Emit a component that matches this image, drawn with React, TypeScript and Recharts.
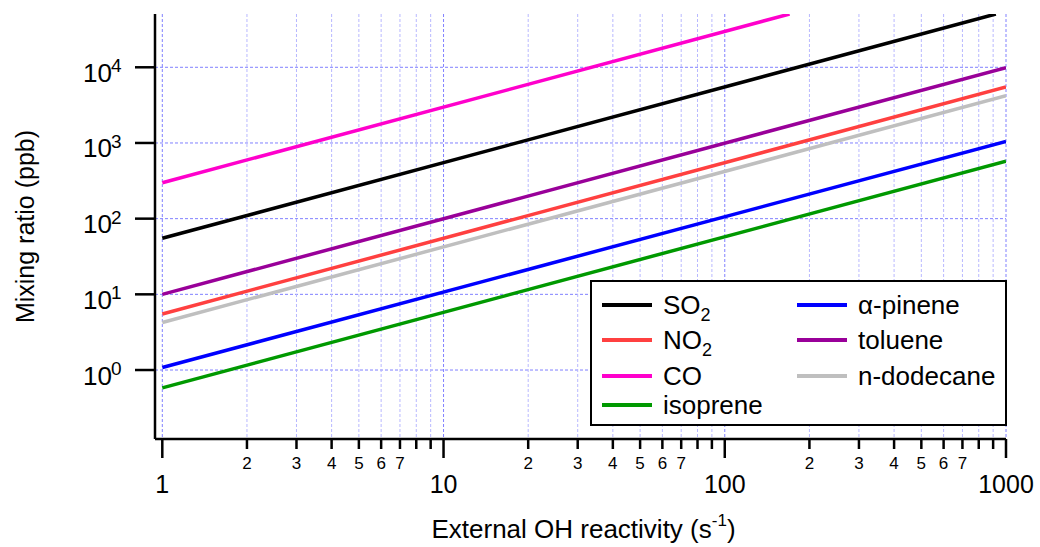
import { LineChart, Line, XAxis, YAxis, CartesianGrid, Legend } from 'recharts'

const FONT = '"Liberation Sans", Arial, sans-serif'

// species, in legend order (first column, then second)
const species = ['SO2', 'NO2', 'CO', 'isoprene', 'α-pinene', 'toluene', 'n-dodecane']
const colors = ['#000000', '#ff4040', '#ff00cc', '#009900', '#0000ff', '#990099', '#bfbfbf']

// every line starts at 1 s-1; end points are where each line stops on the plot
const startReactivity = 1
const mixingAtStart = [55, 5.5, 298, 0.58, 1.08, 10, 4.25]
const endReactivity = [920, 1000, 170, 1000, 1000, 1000, 1000]
const mixingAtEnd = [50600, 5500, 50600, 575, 1050, 9900, 4200]

// axes
const xMajorTicks = [1, 10, 100, 1000]
const xMinorDigits = [2, 3, 4, 5, 6, 7, 8, 9]
const xLabelledDigits = [2, 3, 4, 5, 6, 7]
const yTicks = [1, 10, 100, 1000, 10000]
const yTickExponents = ['0', '1', '2', '3', '4']

const xTicks = xMajorTicks.flatMap((m, i) =>
  i < xMajorTicks.length - 1 ? [m, ...xMinorDigits.map(d => d * m)] : [m]
)

const GRID = '#8080ff'
const GRID_MINOR = '#b8b8ff'

function XTick({ x, y, payload }: any) {
  const v = payload.value as number
  const major = xMajorTicks.includes(v)
  const decade = Math.pow(10, Math.floor(Math.log10(v) + 1e-9))
  const digit = Math.round(v / decade)
  return (
    <g>
      <line x1={x} x2={x} y1={y} y2={y + (major ? 19 : 10)} stroke="#000" strokeWidth={2.5} />
      {major ? (
        <text x={x} y={y + 54} textAnchor="middle" fontSize={25} fontFamily={FONT} fill="#000">
          {String(v)}
        </text>
      ) : xLabelledDigits.includes(digit) ? (
        <text x={x} y={y + 30} textAnchor="middle" fontSize={17} fontFamily={FONT} fill="#000">
          {String(digit)}
        </text>
      ) : null}
    </g>
  )
}

function YTick({ x, y, payload }: any) {
  const i = yTicks.indexOf(payload.value)
  return (
    <g>
      <line x1={x - 20} x2={x} y1={y} y2={y} stroke="#000" strokeWidth={2.5} />
      <text x={x - 43} y={y + 14.5} textAnchor="end" fontSize={26} fontFamily={FONT} fill="#000">
        10
      </text>
      <text x={x - 44} y={y + 5} textAnchor="start" fontSize={19} fontFamily={FONT} fill="#000">
        {yTickExponents[i]}
      </text>
    </g>
  )
}

const renderXTitle = ({ viewBox }: any) => (
  <text x={viewBox.x + viewBox.width / 2 + 3} y={viewBox.y + 99} textAnchor="middle" fontSize={26} fontFamily={FONT} fill="#000">
    External OH reactivity (s
    <tspan dy={-12} fontSize={17}>-1</tspan>
    <tspan dy={12}>)</tspan>
  </text>
)

const renderYTitle = ({ viewBox }: any) => {
  const cx = 25
  const cy = viewBox.y + viewBox.height / 2
  return (
    <text x={cx} y={cy} transform={`rotate(-90 ${cx} ${cy})`} textAnchor="middle" dominantBaseline="central" fontSize={25} fontFamily={FONT} fill="#000">
      Mixing ratio (ppb)
    </text>
  )
}

// vertical grid: decades a little stronger than the minor lines
const renderVerticalLine = (p: any) => {
  const v = xTicks[p.index]
  const major = v === undefined || xMajorTicks.includes(v)
  return (
    <line
      key={p.key}
      x1={p.x1}
      x2={p.x2}
      y1={p.y1}
      y2={p.y2}
      stroke={major ? GRID : GRID_MINOR}
      strokeWidth={1}
      strokeDasharray="3 2"
    />
  )
}

function speciesLabel(name: string) {
  const m = name.match(/^(.*?)(\d)$/)
  if (!m) return name
  return (
    <>
      {m[1]}
      <span style={{ fontSize: 18, position: 'relative', top: 7 }}>{m[2]}</span>
    </>
  )
}

const legendRowY = [25, 60, 96, 125]

function LegendBox() {
  return (
    <div
      style={{
        position: 'relative',
        width: 417,
        height: 146,
        boxSizing: 'border-box',
        border: '2px solid #000',
        background: '#fff',
        fontFamily: FONT,
        fontSize: 26,
        color: '#000',
      }}
    >
      {species.map((name, i) => {
        const col = i < 4 ? 0 : 1
        const row = i < 4 ? i : i - 4
        const lineLeft = col === 0 ? 10 : 205
        const textLeft = col === 0 ? 71 : 266
        const cy = legendRowY[row] - 2
        return (
          <div key={name}>
            <div style={{ position: 'absolute', left: lineLeft, top: cy - 2, width: 50, height: 4, background: colors[i] }} />
            <div style={{ position: 'absolute', left: textLeft, top: cy - 14, lineHeight: '28px', whiteSpace: 'nowrap' }}>
              {speciesLabel(name)}
            </div>
          </div>
        )
      })}
    </div>
  )
}

export default function App() {
  return (
    <div style={{ position: 'absolute', left: 0, top: 0, width: 1040, height: 547, background: '#fff' }}>
      <LineChart width={1040} height={547} margin={{ top: 14, right: 34, left: 0, bottom: 0 }}>
        <CartesianGrid
          syncWithTicks
          stroke={GRID}
          strokeDasharray="3 2"
          strokeWidth={1}
          vertical={renderVerticalLine}
        />
        <XAxis
          dataKey="x"
          type="number"
          scale="log"
          domain={[0.942, 1000]}
          allowDataOverflow
          ticks={xTicks}
          interval={0}
          height={108}
          tickSize={0}
          tickMargin={0}
          tickLine={false}
          tick={<XTick />}
          axisLine={{ stroke: '#000', strokeWidth: 2.5 }}
          label={renderXTitle}
        />
        <YAxis
          dataKey="y"
          type="number"
          scale="log"
          domain={[0.1226, 50600]}
          allowDataOverflow
          ticks={yTicks}
          interval={0}
          width={155}
          tickSize={0}
          tickMargin={0}
          tickLine={false}
          tick={<YTick />}
          axisLine={{ stroke: '#000', strokeWidth: 2.5 }}
          label={renderYTitle}
        />
        {species.map((name, i) => (
          <Line
            key={name}
            data={[
              { x: startReactivity, y: mixingAtStart[i] },
              { x: endReactivity[i], y: mixingAtEnd[i] },
            ]}
            dataKey="y"
            name={name}
            stroke={colors[i]}
            strokeWidth={3.5}
            dot={false}
            activeDot={false}
            isAnimationActive={false}
          />
        ))}
        <Legend
          layout="horizontal"
          verticalAlign="middle"
          align="center"
          wrapperStyle={{ left: 590, top: 280, width: 417, height: 146 }}
          content={() => <LegendBox />}
        />
      </LineChart>
    </div>
  )
}
